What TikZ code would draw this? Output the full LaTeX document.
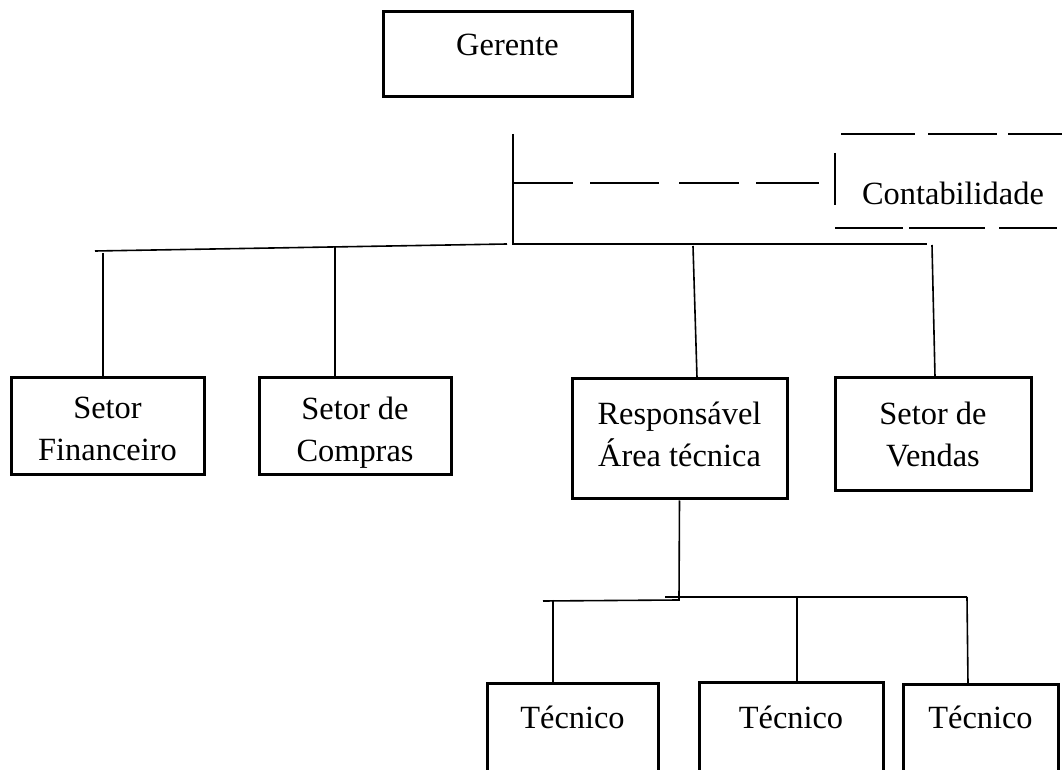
\documentclass[tikz,border=0pt]{standalone}
\usepackage{fontspec}
\setmainfont{Liberation Serif}
\usetikzlibrary{positioning}

\tikzset{
  orgbox/.style={draw, line width=1.5pt, inner sep=0pt},
  orgtext/.style={inner sep=0pt, align=center, font=\fontsize{16.2}{21}\selectfont},
  link/.style={line width=0.8pt},
  dashlink/.style={line width=0.8pt, dash pattern=on 30pt off 8.5pt on 34.5pt off 10pt},
}

\begin{document}
\begin{tikzpicture}[x=0.5pt, y=-0.5pt]
\useasboundingbox (0,0) rectangle (1062,770);
\clip (0,0) rectangle (1062,770);

% boxes
\node[orgbox, minimum width=124.5pt, minimum height=42.5pt] (gerente) at (507.5,54.5) {};
\node[orgbox, minimum width=96.5pt, minimum height=48.5pt] (fin) at (107.5,426.5) {};
\node[orgbox, minimum width=96pt, minimum height=48.5pt] (compras) at (355,426.5) {};
\node[orgbox, minimum width=107.5pt, minimum height=60pt] (resp) at (679.5,439) {};
\node[orgbox, minimum width=98pt, minimum height=56.5pt] (vendas) at (933,434.5) {};
\node[orgbox, minimum width=85.5pt, minimum height=60pt] (tec1) at (572.5,744) {};
\node[orgbox, minimum width=92pt, minimum height=60pt] (tec2) at (791,743) {};
\node[orgbox, minimum width=77.5pt, minimum height=60pt] (tec3) at (980.5,745) {};

% texts
\node[orgtext, below=11.5pt of gerente.north] (gerentetxt) {Gerente};
\node[orgtext, below=10pt of fin.north] (fintxt) {Setor\\Financeiro};
\node[orgtext, below=10pt of compras.north] (comprastxt) {Setor de\\Compras};
\node[orgtext, below=12pt of resp.north] (resptxt) {Responsável\\Área técnica};
\node[orgtext, below=12.5pt of vendas.north] (vendastxt) {Setor de\\Vendas};
\node[orgtext, below=11.5pt of tec1.north] (tec1txt) {Técnico};
\node[orgtext, below=12pt of tec2.north] (tec2txt) {Técnico};
\node[orgtext, below=11pt of tec3.north] (tec3txt) {Técnico};
\node[orgtext] (contab) at (953,193) {Contabilidade};

% contabilidade (dashed frame)
\draw[link, dash pattern=on 37pt off 6.5pt on 34.5pt off 5.5pt] (841,134) -- (1062,134);
\draw[link, dash pattern=on 34pt off 3pt on 38pt off 7pt] (835,228) -- (1057,228);
\draw[link] (835,153) -- (835,205);

% top level
\coordinate (trunktop) at (513,134);
\coordinate (trunkbot) at (513,244);
\coordinate (busend) at (927,244);
\coordinate (busleft) at (95,251);
\coordinate (busmid) at (507,244);
\draw[link] (trunktop) -- (trunkbot) -- (busend);
\draw[link] (busleft) -- (busmid);
\draw[dashlink] (513,183) -- (819,183);

% drops to the sectors
\coordinate (d1) at (103,253);
\coordinate (d2) at (335,247);
\coordinate (d3) at (693,246);
\coordinate (d4) at (932,245);
\draw[link] (d1) -- (d1 |- fin.north);
\draw[link] (d2) -- (d2 |- compras.north);
\draw[link] (d3) -- ([xshift=8.75pt]resp.north);
\draw[link] (d4) -- ([xshift=1pt]vendas.north);

% area tecnica
\coordinate (rjoin) at (679,600);
\coordinate (tbusleft) at (543,601);
\coordinate (tbusA) at (665,597);
\coordinate (tbusB) at (967,597);
\draw[link] (resp.south) -- (rjoin) -- (tbusleft);
\draw[link] (tbusA) -- (tbusB);
\coordinate (t1) at (553,600);
\coordinate (t2) at (797,598);
\draw[link] (t1) -- (t1 |- tec1.north);
\draw[link] (t2) -- (t2 |- tec2.north);
\draw[link] (tbusB) -- ([xshift=-6.25pt]tec3.north);

\end{tikzpicture}
\end{document}
